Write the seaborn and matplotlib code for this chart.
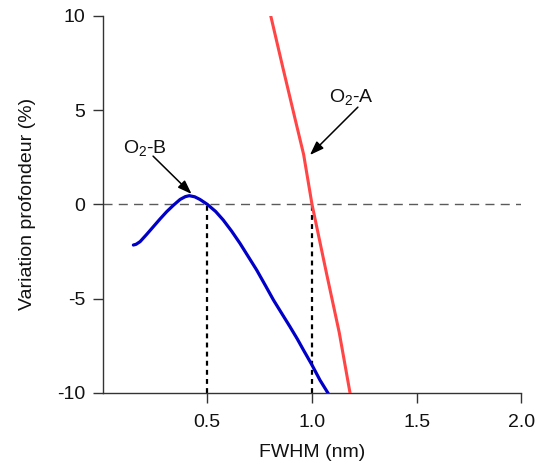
import matplotlib
matplotlib.use("Agg")
import matplotlib.pyplot as plt
import seaborn as sns
import pandas as pd

# ---- data ----
fwhm_b = [0.147, 0.160, 0.179, 0.210, 0.242, 0.274, 0.306, 0.338, 0.370, 0.395, 0.414,
          0.440, 0.465, 0.500, 0.540, 0.576, 0.616, 0.656, 0.696, 0.736, 0.776, 0.816,
          0.856, 0.895, 0.930, 0.959, 1.000, 1.038, 1.078]
var_b = [-2.16, -2.12, -1.98, -1.60, -1.19, -0.78, -0.39, -0.05, 0.26, 0.41, 0.46,
         0.40, 0.26, 0.00, -0.38, -0.83, -1.42, -2.07, -2.78, -3.49, -4.28, -5.08,
         -5.80, -6.50, -7.15, -7.73, -8.53, -9.33, -10.05]

fwhm_a = [0.800, 0.860, 0.920, 0.960, 1.000, 1.070, 1.130, 1.183]
var_a = [10.15, 7.30, 4.50, 2.65, 0.00, -3.70, -6.80, -10.10]

zero_crossings = [0.5, 1.0]
labels = ["O$_2$-B", "O$_2$-A"]
label_pos = [(0.202, 2.99), (1.186, 5.70)]
arrow_tail = [(0.241, 2.56), (1.219, 5.16)]
arrow_head = [(0.425, 0.55), (0.990, 2.62)]

xticks = [0.5, 1.0, 1.5, 2.0]
xticklabels = ["0.5", "1.0", "1.5", "2.0"]
yticks = [-10, -5, 0, 5, 10]
yticklabels = ["-10", "-5", "0", "5", "10"]

sns.set_theme(style="ticks")
plt.rcParams["font.family"] = ["Liberation Sans", "DejaVu Sans"]
plt.rcParams["mathtext.default"] = "regular"
plt.rcParams["axes.unicode_minus"] = False

FS = 14

fig = plt.figure(figsize=(5.36, 4.65), dpi=100)
ax = fig.add_axes([102.6 / 536, 1 - 392.7 / 465, (521.4 - 102.6) / 536, (392.7 - 16.0) / 465])

df_b = pd.DataFrame({"x": fwhm_b, "y": var_b})
df_a = pd.DataFrame({"x": fwhm_a, "y": var_a})

# reference lines
ax.axhline(0, color="#5a5a5a", lw=1.0, dashes=(6.5, 4.5), zorder=1)
for xc in zero_crossings:
    ax.plot([xc, xc], [-10, 0], color="black", lw=1.6, dashes=(2.2, 1.9), zorder=1)

sns.lineplot(data=df_b, x="x", y="y", ax=ax, color="#0000c8", lw=2.3, sort=False, zorder=3)
sns.lineplot(data=df_a, x="x", y="y", ax=ax, color="#ff4545", lw=2.2, sort=False, zorder=3)

for lab, pos, tail, head in zip(labels, label_pos, arrow_tail, arrow_head):
    ax.annotate("", xy=head, xytext=tail,
                arrowprops=dict(arrowstyle="-|>,head_length=0.7,head_width=0.25",
                                color="black", lw=1.1, mutation_scale=12,
                                shrinkA=0, shrinkB=0))
    ax.text(pos[0], pos[1], lab, ha="center", va="center", fontsize=FS, color="#111111")

ax.set_xlim(0, 2.0)
ax.set_ylim(-10, 10)
ax.set_xticks(xticks)
ax.set_xticklabels(xticklabels)
ax.set_yticks(yticks)
ax.set_yticklabels(yticklabels)
ax.set_xlabel("FWHM (nm)", fontsize=FS, color="#111111", labelpad=9)
ax.set_ylabel("Variation profondeur (%)", fontsize=FS, color="#111111", labelpad=15)

for s in ["top", "right"]:
    ax.spines[s].set_visible(False)
for s in ["left", "bottom"]:
    ax.spines[s].set_color("#333333")
    ax.spines[s].set_linewidth(1.0)
ax.tick_params(axis="both", direction="out", length=7.5, width=1.0, color="#333333",
               labelsize=FS, labelcolor="#111111")
ax.tick_params(axis="x", pad=8)
ax.tick_params(axis="y", pad=5)

fig.savefig("out.png", dpi=100)
